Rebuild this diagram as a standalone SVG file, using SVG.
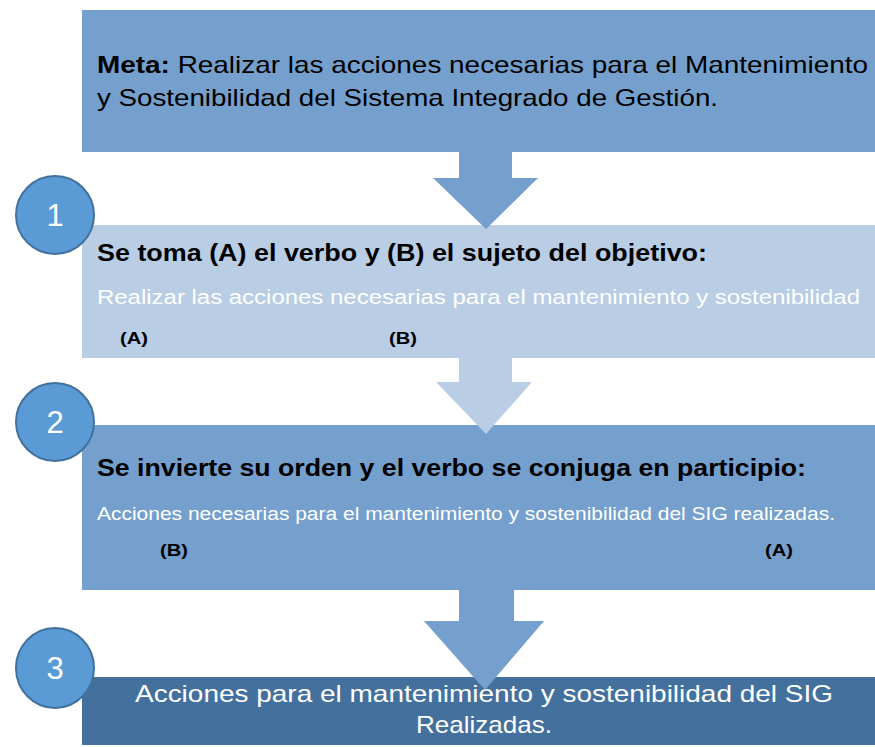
<svg xmlns="http://www.w3.org/2000/svg" width="875" height="747" viewBox="0 0 875 747">
<style>
.mid{fill:#759fcc}
.light{fill:#b9cde5}
.dark{fill:#44709d}
.circ{fill:#5b9bd5;stroke:#41719c;stroke-width:2}
.num{font-family:"Liberation Sans",Arial,sans-serif;font-size:31px;fill:#fff;text-anchor:middle}
.t{font-family:"Liberation Sans",Arial,sans-serif;fill:#000}
.b{font-weight:bold}
.w{fill:#fff}
</style>
<rect width="875" height="747" fill="#fff"/>
<g id="meta">
<rect class="mid" x="82" y="10" width="793" height="142"/>
<text class="t" x="97" y="73" font-size="24" textLength="771" lengthAdjust="spacingAndGlyphs"><tspan class="b">Meta:</tspan> Realizar las acciones necesarias para el Mantenimiento</text>
<text class="t" x="97" y="106" font-size="24" textLength="621" lengthAdjust="spacingAndGlyphs">y Sostenibilidad del Sistema Integrado de Gestión.</text>
</g>
<g id="step1">
<rect class="light" x="82" y="225" width="793" height="133"/>
<text class="t b" x="97" y="261" font-size="24" textLength="610" lengthAdjust="spacingAndGlyphs">Se toma (A) el verbo y (B) el sujeto del objetivo:</text>
<text class="t w" x="97" y="304" font-size="20" textLength="763" lengthAdjust="spacingAndGlyphs">Realizar las acciones necesarias para el mantenimiento y sostenibilidad</text>
<text class="t b" x="120" y="344" font-size="17" textLength="28" lengthAdjust="spacingAndGlyphs">(A)</text>
<text class="t b" x="389" y="344" font-size="17" textLength="28" lengthAdjust="spacingAndGlyphs">(B)</text>
</g>
<g id="step2">
<rect class="mid" x="82" y="425" width="793" height="165"/>
<text class="t b" x="97" y="476" font-size="24" textLength="709" lengthAdjust="spacingAndGlyphs">Se invierte su orden y el verbo se conjuga en participio:</text>
<text class="t w" x="97" y="520" font-size="18" textLength="738" lengthAdjust="spacingAndGlyphs">Acciones necesarias para el mantenimiento y sostenibilidad del SIG realizadas.</text>
<text class="t b" x="160" y="556" font-size="17" textLength="28" lengthAdjust="spacingAndGlyphs">(B)</text>
<text class="t b" x="765" y="556" font-size="17" textLength="28" lengthAdjust="spacingAndGlyphs">(A)</text>
</g>
<g id="step3">
<rect class="dark" x="82" y="677" width="793" height="68"/>
<text class="t w" x="484" y="702" font-size="24" text-anchor="middle" textLength="698" lengthAdjust="spacingAndGlyphs">Acciones para el mantenimiento y sostenibilidad del SIG</text>
<text class="t w" x="484" y="733" font-size="24" text-anchor="middle" textLength="136" lengthAdjust="spacingAndGlyphs">Realizadas.</text>
</g>
<g id="connectors">
<polygon class="mid" points="459,152 512,152 512,178 538,178 486,229 433,178 459,178"/>
<polygon class="light" points="459,358 512,358 512,382 532,382 486,434 436,382 459,382"/>
<polygon class="mid" points="459,590 514,590 514,621 544,621 485,690 424,621 459,621"/>
</g>
<g id="badge1">
<ellipse class="circ" cx="55" cy="215" rx="39" ry="39"/>
<text class="num" x="55" y="226">1</text>
</g>
<g id="badge2">
<ellipse class="circ" cx="55" cy="422" rx="39" ry="39"/>
<text class="num" x="55" y="433">2</text>
</g>
<g id="badge3">
<ellipse class="circ" cx="55" cy="668" rx="39" ry="40"/>
<text class="num" x="55" y="679">3</text>
</g>
</svg>
